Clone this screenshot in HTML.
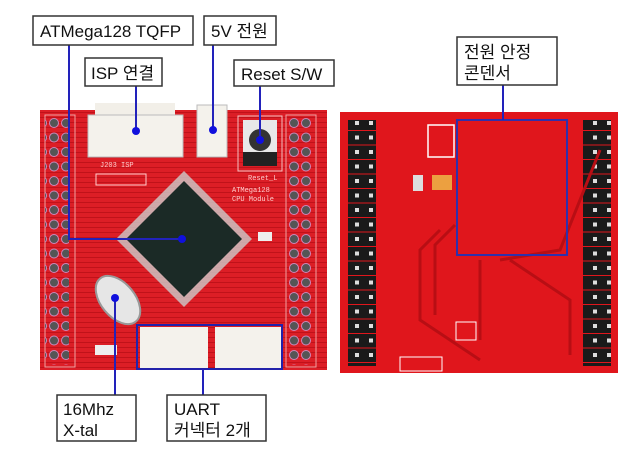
<!DOCTYPE html>
<html><head><meta charset="utf-8"><style>
html,body{margin:0;padding:0;background:#fff;width:640px;height:454px;overflow:hidden}
.t{font-family:"Liberation Sans","Noto Sans CJK KR",sans-serif;font-size:17px;fill:#111}
</style></head><body>
<svg width="640" height="454" viewBox="0 0 640 454" xmlns="http://www.w3.org/2000/svg">
<defs>
<pattern id="hd" width="24" height="14.5" patternUnits="userSpaceOnUse">
<circle cx="6" cy="7" r="4.5" fill="#555" stroke="#c8b" stroke-width="1"/>
<circle cx="18" cy="7" r="4.5" fill="#555" stroke="#c8b" stroke-width="1"/>
</pattern>
<pattern id="bh" width="28" height="14.5" patternUnits="userSpaceOnUse">
<rect x="0" y="0.5" width="28" height="13.5" fill="#1a1a1a"/>
<rect x="5" y="5" width="4" height="4" fill="#ddd"/>
<rect x="19" y="5" width="4" height="4" fill="#ddd"/>
</pattern>
<pattern id="tr" width="5" height="5" patternUnits="userSpaceOnUse">
<rect width="5" height="5" fill="#dc1e26"/><line x1="0" y1="2.5" x2="5" y2="2.5" stroke="#c0121a" stroke-width="1"/>
</pattern>
</defs>
<rect x="40" y="110" width="287" height="260" fill="url(#tr)"/>
<rect x="45" y="115" width="30" height="252" fill="none" stroke="#f0a0a0" stroke-width="1"/>
<rect x="45" y="117" width="24" height="248" fill="url(#hd)"/>
<rect x="286" y="115" width="30" height="252" fill="none" stroke="#f0a0a0" stroke-width="1"/>
<rect x="288" y="117" width="24" height="248" fill="url(#hd)"/>
<rect x="95" y="103" width="80" height="14" fill="#f2efe8"/>
<rect x="88" y="115" width="95" height="42" fill="#f4f2ec" stroke="#bbb"/>
<rect x="197" y="105" width="30" height="52" fill="#f4f2ec" stroke="#bbb"/>
<rect x="238" y="116" width="44" height="55" fill="none" stroke="#f3c0c0"/>
<rect x="243" y="120" width="34" height="32" fill="#e8e8e8"/>
<rect x="243" y="152" width="34" height="14" fill="#222"/>
<circle cx="260" cy="140" r="11" fill="#333"/>
<text x="100" y="167" font-family="Liberation Mono" font-size="7" fill="#fcc">J203 ISP</text>
<rect x="96" y="174" width="50" height="11" fill="none" stroke="#fcc"/>
<text x="248" y="180" font-family="Liberation Mono" font-size="7" fill="#fcc">Reset_L</text>
<text x="232" y="192" font-family="Liberation Mono" font-size="7" fill="#fcc">ATMega128</text>
<text x="232" y="201" font-family="Liberation Mono" font-size="7" fill="#fcc">CPU Module</text>
<polygon points="184,171 252,239 184,307 116,239" fill="#ccc" opacity="0.8"/>
<polygon points="184,181 242,239 184,297 126,239" fill="#1b2a26"/>
<ellipse cx="118" cy="300" rx="17" ry="28" transform="rotate(-40 118 300)" fill="#e6e6e6" stroke="#999" stroke-width="2"/>
<rect x="140" y="327" width="68" height="42" fill="#f4f2ec"/>
<rect x="215" y="327" width="66" height="42" fill="#f4f2ec"/>
<rect x="137" y="325" width="145" height="44" fill="none" stroke="#2222aa" stroke-width="2"/>
<rect x="258" y="232" width="14" height="9" fill="#eee"/>
<rect x="95" y="345" width="22" height="10" fill="#eee"/>
<rect x="340" y="112" width="278" height="261" fill="#e0161c"/>
<rect x="348" y="120" width="28" height="246" fill="url(#bh)"/>
<rect x="583" y="120" width="28" height="246" fill="url(#bh)"/>
<path d="M440,230 L420,250 L420,320 L480,360 M455,225 L435,245 L435,315 M480,260 L480,340 M510,260 L570,300 L570,355 M600,150 L560,250 L500,260" stroke="#b80e14" stroke-width="3" fill="none"/>
<rect x="428" y="125" width="26" height="32" fill="none" stroke="#fff" stroke-width="1.5"/>
<rect x="432" y="175" width="20" height="15" fill="#eca040"/>
<rect x="413" y="175" width="10" height="16" fill="#ddd"/>
<rect x="456" y="322" width="20" height="18" fill="none" stroke="#fff"/>
<rect x="400" y="357" width="42" height="14" fill="none" stroke="#fff"/>
<rect x="457" y="120" width="110" height="135" fill="none" stroke="#3030aa" stroke-width="2"/>
<g stroke="#2222bb" stroke-width="2" fill="none">
<polyline points="69,45 69,239 182,239"/>
<line x1="213" y1="45" x2="213" y2="131"/>
<line x1="136" y1="86" x2="136" y2="131"/>
<line x1="260" y1="86" x2="260" y2="140"/>
<line x1="115" y1="298" x2="115" y2="395"/>
<line x1="203" y1="369" x2="203" y2="395"/>
<line x1="503" y1="85" x2="503" y2="120"/>
</g>
<g fill="#1010dd">
<circle cx="182" cy="239" r="4"/><circle cx="213" cy="130" r="4"/><circle cx="136" cy="131" r="4"/>
<circle cx="260" cy="140" r="4"/><circle cx="115" cy="298" r="4"/>
</g>
<g fill="#fff" stroke="#333" stroke-width="1.5">
<rect x="33" y="16" width="160" height="29"/>
<rect x="204" y="16" width="72" height="29"/>
<rect x="85" y="58" width="77" height="28"/>
<rect x="234" y="60" width="100" height="26"/>
<rect x="57" y="395" width="79" height="46"/>
<rect x="167" y="395" width="99" height="46"/>
<rect x="457" y="37" width="100" height="48"/>
</g>
<text class="t" x="40" y="37">ATMega128  TQFP</text>
<text class="t" x="211" y="37">5V 전원</text>
<text class="t" x="91" y="79">ISP 연결</text>
<text class="t" x="241" y="80">Reset S/W</text>
<text class="t" x="63" y="415">16Mhz</text>
<text class="t" x="63" y="436">X-tal</text>
<text class="t" x="174" y="415">UART</text>
<text class="t" x="174" y="436">커넥터 2개</text>
<text class="t" x="464" y="58">전원 안정</text>
<text class="t" x="464" y="79">콘덴서</text>
</svg>
</body></html>
